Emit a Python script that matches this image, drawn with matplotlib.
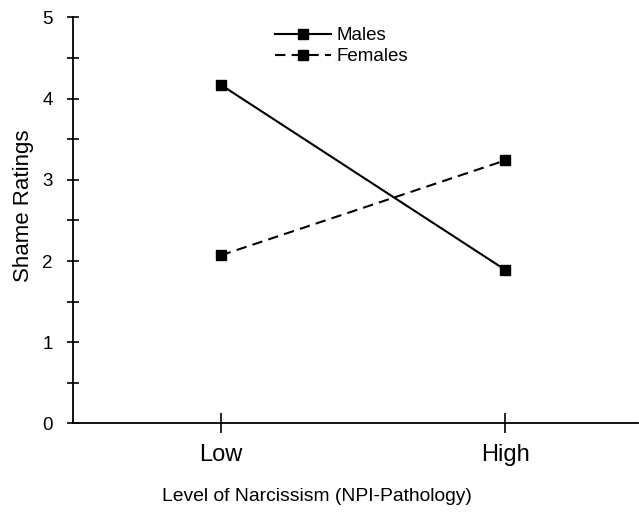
import matplotlib.pyplot as plt
from matplotlib.ticker import MultipleLocator

# level of narcissism vs shame ratings
levels = ["Low", "High"]
males = [4.17, 1.89]
females = [2.07, 3.24]

plt.rcParams['font.family'] = ['Liberation Sans', 'DejaVu Sans']

fig = plt.figure(figsize=(6.39, 5.12), dpi=100)
ax = fig.add_axes([0.114, 0.173, 0.884, 0.793])

xs = list(range(len(levels)))
ax.plot(xs, males, "-s", color="black", lw=1.5, ms=6.5, label="Males")
ax.plot(xs, females, "--s", color="black", lw=1.5, ms=6.5, dashes=(5, 3), label="Females")

ax.set_xlim(-0.52, 1.465)
ax.set_ylim(0, 5)
ax.set_xticks(xs)
ax.set_xticklabels(levels)
ax.yaxis.set_major_locator(MultipleLocator(1))
ax.yaxis.set_minor_locator(MultipleLocator(0.5))

ax.spines["top"].set_visible(False)
ax.spines["right"].set_visible(False)
ax.spines["left"].set_linewidth(1.3)
ax.spines["bottom"].set_linewidth(1.3)

ax.tick_params(axis="y", which="both", direction="inout", length=9, width=1.2,
               labelsize=13.5, pad=10)
ax.tick_params(axis="x", which="major", direction="inout", length=14, width=1.2,
               labelsize=17, pad=8)

ax.set_ylabel("Shame Ratings", fontsize=16)
ax.yaxis.set_label_coords(-0.068, 0.535)
ax.set_xlabel("Level of Narcissism (NPI-Pathology)", fontsize=13.9)
ax.xaxis.set_label_coords(0.432, -0.158)

ax.legend(loc="upper left", bbox_to_anchor=(0.358, 0.976), frameon=False,
          fontsize=13.5, handlelength=3.0, handletextpad=0.3, labelspacing=0.2,
          borderpad=0, borderaxespad=0)

fig.savefig("out.png", dpi=100)
